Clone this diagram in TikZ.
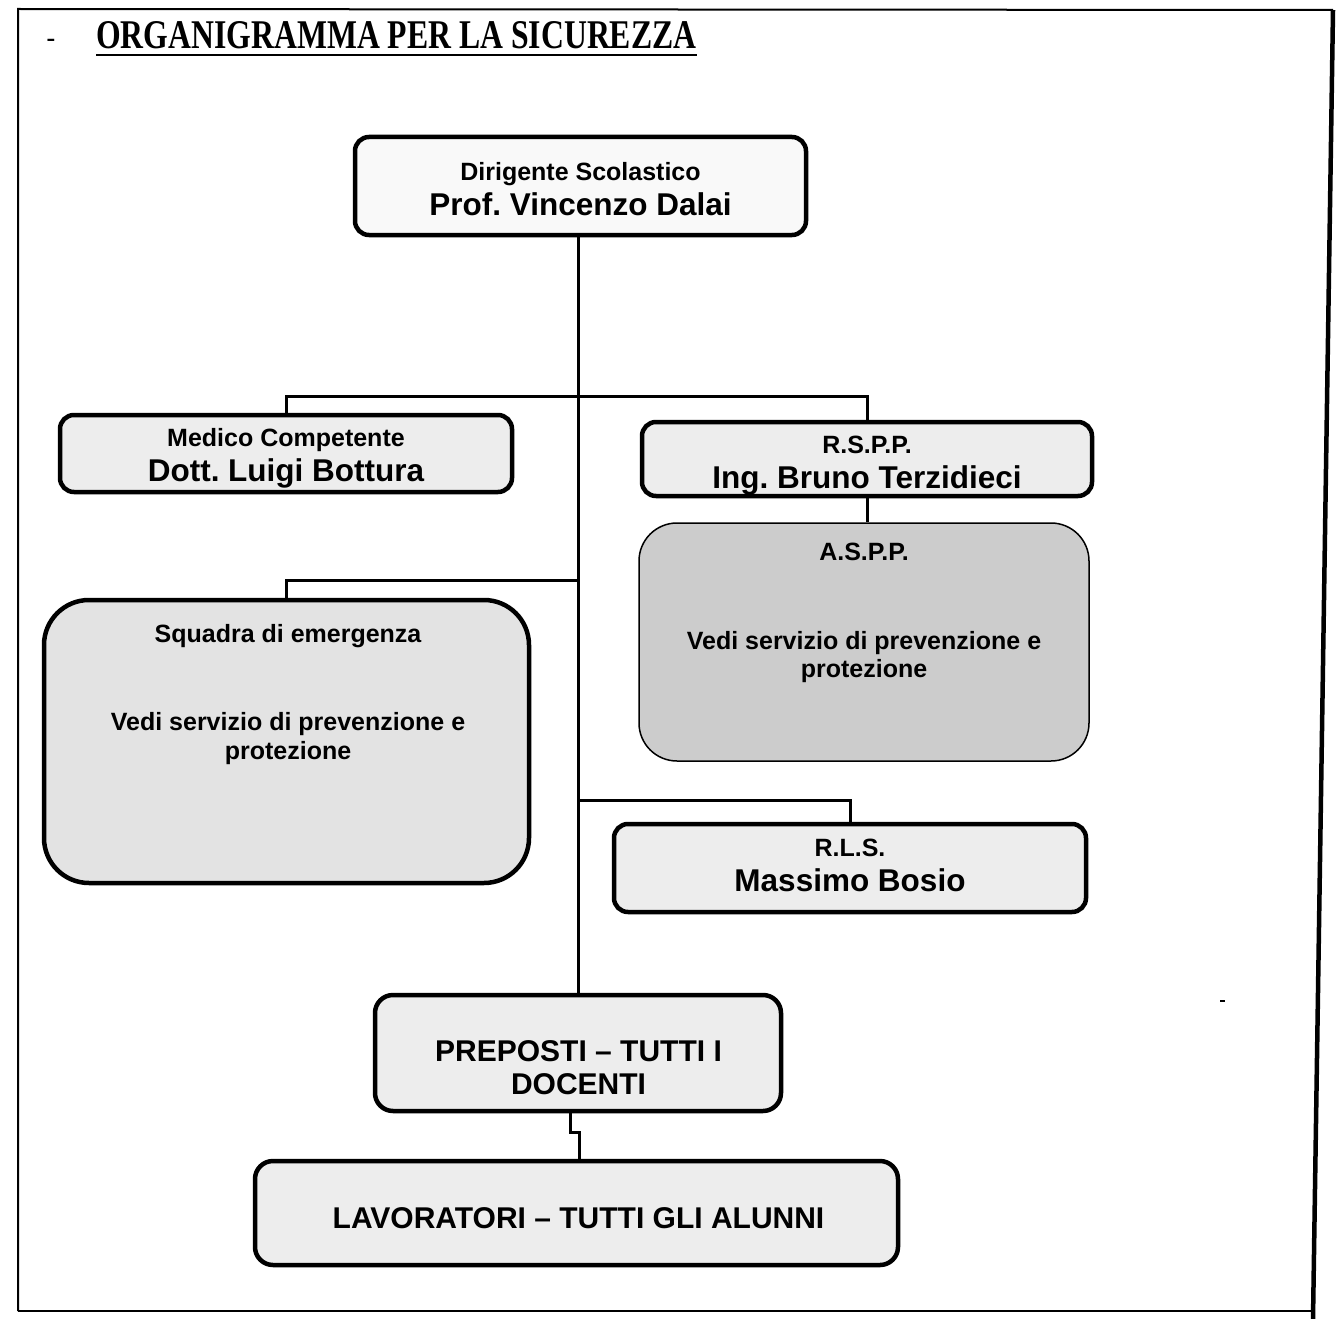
\documentclass[tikz,border=0pt]{standalone}
\usepackage{fontspec}
\usepackage{graphicx}
\newfontfamily\labfont{Liberation Sans}
\newfontfamily\titlefont{Liberation Serif}
\frenchspacing
\begin{document}
\begin{tikzpicture}[x=1pt,y=-1pt,
  box/.style={draw, line width=4.5pt, rounded corners=14pt, fill=gray!14, inner sep=0pt},
  link/.style={line width=3pt},
  small/.style={font=\labfont\bfseries\fontsize{25}{29}\selectfont, inner sep=0pt, anchor=base},
  big/.style={font=\labfont\bfseries\fontsize{31.5}{35}\selectfont, inner sep=0pt, anchor=base},
  caps/.style={font=\labfont\bfseries\fontsize{30}{33}\selectfont, inner sep=0pt, anchor=base}]
\useasboundingbox (0,0) rectangle (1336,1319);
% page frame
\draw[line width=2pt] (18,1311) -- (18,9) -- (1333,10);
\draw[line width=4.5pt] (1333,10) -- (1313,1319);
\draw[line width=2.5pt] (18,1311) -- (1313,1311);
\fill (1220,1000) rectangle (1225,1002);
% title
\node[font=\titlefont\bfseries\fontsize{26}{26}\selectfont, inner sep=0pt, anchor=base] (dash) at (51,47) {-};
\node[inner sep=0pt, anchor=base west] (title) at (96,49)
  {\resizebox{600pt}{27pt}{\titlefont\bfseries ORGANIGRAMMA PER LA SICUREZZA}};
\draw[line width=2.5pt] ([yshift=-6pt]title.base west) -- ([yshift=-6pt]title.base east);
% boxes
\node[box, fill=gray!5, minimum width=451pt, minimum height=98pt] (dir) at (580.5,186) {};
\node[box, minimum width=452pt, minimum height=77pt] (med) at (286,453.5) {};
\node[box, minimum width=450pt, minimum height=74pt] (rspp) at (867,459) {};
\node[box, line width=1.5pt, rounded corners=38pt, fill=gray!40, minimum width=450pt, minimum height=238pt] (aspp) at (864,642) {};
\node[box, rounded corners=45pt, fill=gray!22, minimum width=485pt, minimum height=283pt] (squ) at (286.5,741.5) {};
\node[box, minimum width=472pt, minimum height=88pt] (rls) at (850,868) {};
\node[box, rounded corners=18pt, minimum width=406pt, minimum height=116pt] (prep) at (578,1053) {};
\node[box, rounded corners=18pt, minimum width=643pt, minimum height=104pt] (lav) at (576.5,1213) {};
% texts
\node[small] (dirA) at (580.5,180) {Dirigente Scolastico};
\node[big] (dirB) at (580.5,215) {Prof. Vincenzo Dalai};
\node[small] (medA) at (286,446) {Medico Competente};
\node[big] (medB) at (286,481) {Dott. Luigi Bottura};
\node[small] (rsppA) at (867,453) {R.S.P.P.};
\node[big] (rsppB) at (867,488) {Ing. Bruno Terzidieci};
\node[small] (asppA) at (864,560) {A.S.P.P.};
\node[small] (asppB) at (864,649) {Vedi servizio di prevenzione e};
\node[small] (asppC) at (864,677) {protezione};
\node[small] (squA) at (288,642) {Squadra di emergenza};
\node[small] (squB) at (288,730) {Vedi servizio di prevenzione e};
\node[small] (squC) at (288,759) {protezione};
\node[small] (rlsA) at (850,856) {R.L.S.};
\node[big] (rlsB) at (850,891) {Massimo Bosio};
\node[caps] (prepA) at (578.5,1061) {PREPOSTI – TUTTI I};
\node[caps] (prepB) at (578.5,1094) {DOCENTI};
\node[caps] (lavA) at (578.5,1228) {LAVORATORI – TUTTI GLI ALUNNI};
% connectors
\coordinate (j1) at (578,396);
\coordinate (j2) at (578,580);
\coordinate (j3) at (578,800);
\draw[link] (dir.south -| j1) -- (j1 |- prep.north);
\draw[link] (med.north) -- (med.north |- j1) -- (rspp.north |- j1) -- (rspp.north);
\draw[link] (rspp.south) -- (rspp.south |- aspp.north);
\draw[link] (squ.north) -- (squ.north |- j2) -- (j2);
\draw[link] (j3) -- (j3 -| rls.north) -- (rls.north);
\draw[link] ([xshift=-8pt]prep.south) -- ++(0,19) -| ([xshift=3pt]lav.north);
\end{tikzpicture}
\end{document}
